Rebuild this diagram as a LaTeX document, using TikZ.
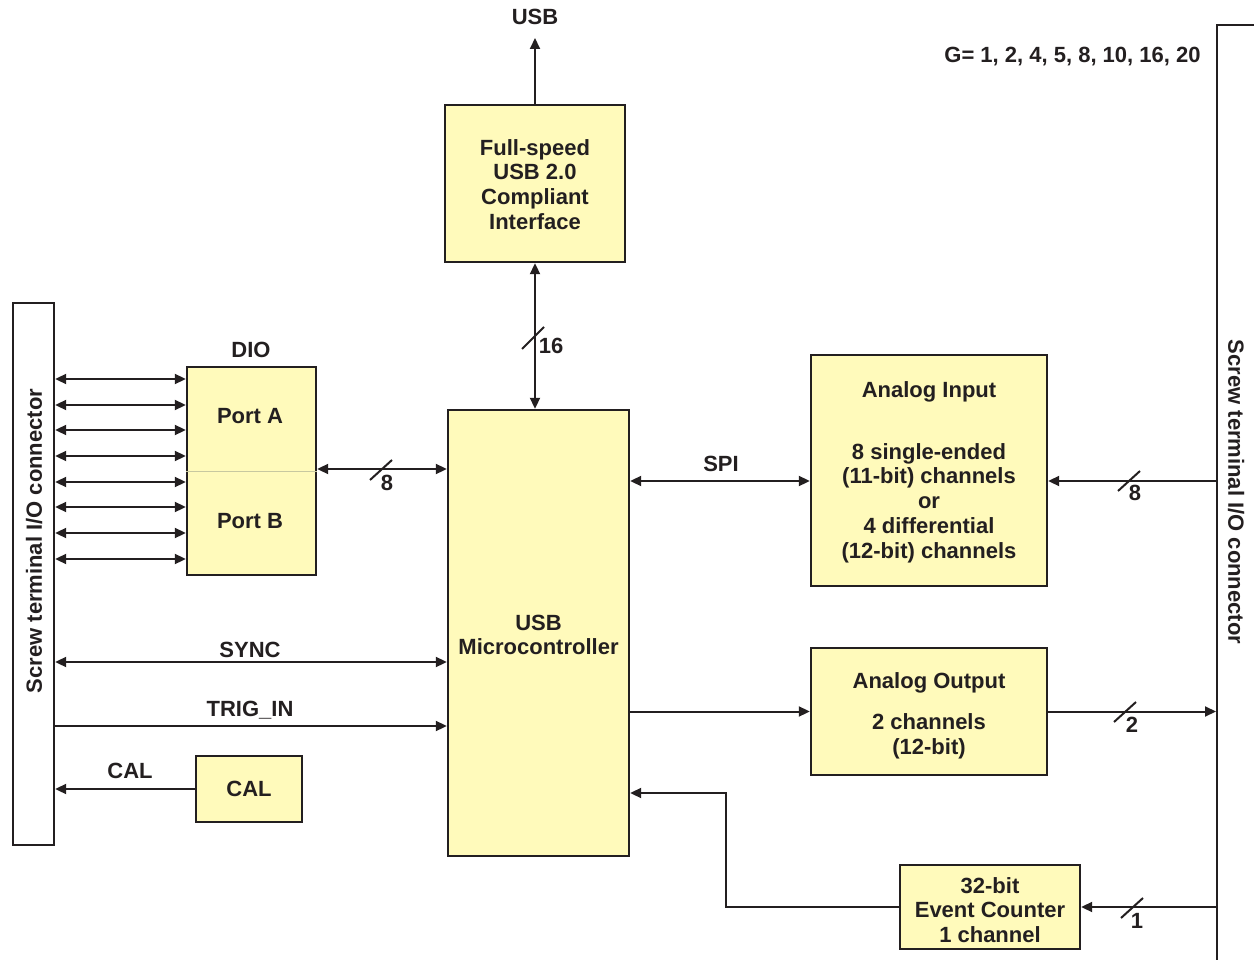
\documentclass[tikz,border=0pt]{standalone}
\usepackage{fontspec}
\setmainfont{Liberation Sans}
\usetikzlibrary{arrows.meta}
\definecolor{boxfill}{RGB}{255,250,187}
\definecolor{ink}{RGB}{35,31,32}
\definecolor{divline}{RGB}{200,200,160}
\begin{document}
\begin{tikzpicture}[x=1pt,y=-1pt,
  every node/.style={font=\bfseries\fontsize{22}{24.8}\selectfont, text=ink},
  blk/.style={draw=ink, line width=2.4pt, fill=boxfill, inner sep=0pt, align=center},
  conn/.style={draw=ink, line width=2.4pt, fill=white, inner sep=0pt},
  wire/.style={draw=ink, line width=2pt},
  sarr/.style={wire,-{Triangle[length=11pt,width=10pt]}},
  dbl/.style={wire,{Triangle[length=11pt,width=10pt]}-{Triangle[length=11pt,width=10pt]}},
  slash/.style={draw=ink, line width=2pt},
  lbl/.style={text height=15.8pt, text depth=0pt, inner sep=0pt},
  txt/.style={inner sep=0pt, align=center}
]
\useasboundingbox (0,0) rectangle (1254,960);
\clip (0,0) rectangle (1254,960);

% connectors (screw terminals)
\node[conn, minimum width=41, minimum height=542] (lc) at (33.5,574) {};
\node[rotate=90, inner sep=0pt] (lct) at (34,541) {Screw terminal I/O connector};
\node[conn, anchor=north west, minimum width=80, minimum height=1000] (rc) at (1216,24) {};
\node[rotate=-90, inner sep=0pt] (rct) at (1236,492) {Screw terminal I/O connector};

% blocks
\node[blk, minimum width=180, minimum height=157] (usb) at (535,183.5) {};
\node[txt] (usbt) at (535,184.5) {Full-speed\\USB 2.0\\Compliant\\Interface};
\node[blk, minimum width=181, minimum height=446] (mcu) at (538.5,633) {};
\node[txt] (mcut) at (538.5,635) {USB\\Microcontroller};
\node[blk, minimum width=129, minimum height=208] (dio) at (251.5,471) {};
\draw[divline, line width=1pt] (dio.west) -- (dio.east);
\node[lbl] (pa) at (250,416) {Port A};
\node[lbl] (pb) at (250,521) {Port B};
\node[lbl] (diol) at (251,350) {DIO};
\node[blk, minimum width=106, minimum height=66] (cal) at (249,789) {};
\node[lbl] (calt) at (249,789) {CAL};
\node[blk, minimum width=236, minimum height=231] (ai) at (929,470.5) {};
\node[txt] (ait) at (929,472) {Analog Input\\[37.2pt]8 single-ended\\(11-bit) channels\\or\\4 differential\\(12-bit) channels};
\node[blk, minimum width=236, minimum height=127] (ao) at (929,711.5) {};
\node[txt] (aot) at (929,716) {Analog Output\\[16pt]2 channels\\(12-bit)};
\node[blk, minimum width=180, minimum height=84] (ec) at (990,907) {};
\node[txt] (ect) at (990,910) {32-bit\\Event Counter\\1 channel};

% labels
\node[lbl] (gl) at (1072.5,55) {G= 1, 2, 4, 5, 8, 10, 16, 20};
\node[lbl] (usbl) at (535,17) {USB};
\node[lbl] (spil) at (721,464) {SPI};
\node[lbl] (syncl) at (250,650) {SYNC};
\node[lbl] (trigl) at (250,709) {TRIG\_IN};
\node[lbl] (call) at (130,771) {CAL};

% USB out
\coordinate (usbtop) at (535,38);
\draw[sarr] (usb.north) -- (usb.north |- usbtop);
% 16-bit bus
\draw[dbl] (usb.south) -- (usb.south |- mcu.north);
\draw[slash] (533,338) +(-11,11) -- +(11,-11);
\node[lbl] (n16) at (551,346) {16};

% DIO lines
\foreach \y [count=\i] in {379,405,430,456,482,507,533,559} {
  \coordinate (d\i) at (0,\y);
  \draw[dbl] (lc.east |- d\i) -- (dio.west |- d\i);
}
\coordinate (pc) at (0,469);
\draw[dbl] (dio.east |- pc) -- (mcu.west |- pc);
\draw[slash] (381,470) +(-11,10) -- +(11,-10);
\node[lbl] (n8a) at (387,483) {8};

% SYNC, TRIG_IN, CAL
\coordinate (sy) at (0,662);
\draw[dbl] (lc.east |- sy) -- (mcu.west |- sy);
\coordinate (tr) at (0,726);
\draw[sarr] (lc.east |- tr) -- (mcu.west |- tr);
\draw[sarr] (cal.west) -- (lc.east |- cal.west);

% SPI
\coordinate (sp) at (0,481);
\draw[dbl] (mcu.east |- sp) -- (ai.west |- sp);
\draw[sarr] (rc.west |- sp) -- (ai.east |- sp);
\draw[slash] (1129,481) +(-11,10) -- +(11,-10);
\node[lbl] (n8b) at (1135,493) {8};

% Analog output
\draw[sarr] (mcu.east |- ao.west) -- (ao.west);
\draw[sarr] (ao.east) -- (rc.west |- ao.east);
\draw[slash] (1125,712) +(-11,10) -- +(11,-10);
\node[lbl] (n2) at (1132,725) {2};

% Event counter
\draw[sarr] (rc.west |- ec.east) -- (ec.east);
\draw[slash] (1132,908) +(-11,10) -- +(11,-10);
\node[lbl] (n1) at (1137,921) {1};
\coordinate (ecbend) at (726,793);
\draw[sarr] (ec.west) -| (ecbend) -- (mcu.east |- ecbend);
\end{tikzpicture}
\end{document}
